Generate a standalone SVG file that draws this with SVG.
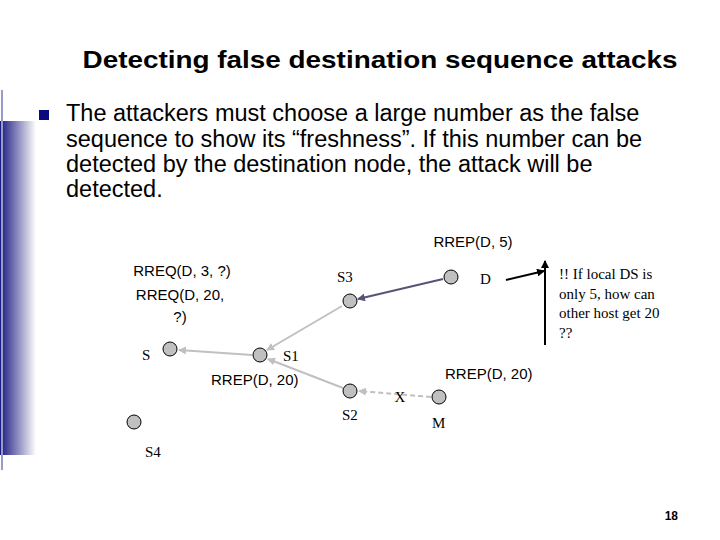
<svg xmlns="http://www.w3.org/2000/svg" width="720" height="540" viewBox="0 0 720 540">
<defs>
<linearGradient id="bar" x1="0" x2="1" y1="0" y2="0"><stop offset="0" stop-color="#1a1a80"/><stop offset="1" stop-color="#ffffff"/></linearGradient>
<marker id="ag" markerWidth="8" markerHeight="8" refX="7" refY="4" orient="auto" markerUnits="userSpaceOnUse"><path d="M0,0 L8,4 L0,8 z" fill="#c0c0c0"/></marker>
<marker id="ad" markerWidth="8" markerHeight="8" refX="7" refY="4" orient="auto" markerUnits="userSpaceOnUse"><path d="M0,0 L8,4 L0,8 z" fill="#555577"/></marker>
<marker id="ab" markerWidth="8" markerHeight="8" refX="7" refY="4" orient="auto" markerUnits="userSpaceOnUse"><path d="M0,0 L8,4 L0,8 z" fill="#000"/></marker>
<style>
.n{fill:#c0c0c0;stroke:#000;stroke-width:1}
.a{font-family:"Liberation Sans",Arial,sans-serif;font-size:15px;fill:#000}
.t{font-family:"Liberation Serif","Times New Roman",serif;font-size:15px;fill:#000}
.g{stroke:#c0c0c0;stroke-width:2;fill:none}
</style>
</defs>
<rect width="720" height="540" fill="#fff"/>
<rect x="0" y="121" width="36" height="334" fill="url(#bar)"/>
<line x1="2" y1="90" x2="2" y2="470" stroke="#9999cc" stroke-width="2"/>
<text x="380" y="68" text-anchor="middle" font-family="Liberation Sans,Arial,sans-serif" font-size="24" font-weight="bold" textLength="595" lengthAdjust="spacingAndGlyphs">Detecting false destination sequence attacks</text>
<rect x="39" y="110" width="10" height="10" fill="#0a0a80"/>
<text font-family="Liberation Sans,Arial,sans-serif" font-size="23.5"><tspan x="66" y="121">The attackers must choose a large number as the false</tspan><tspan x="66" y="147">sequence to show its “freshness”. If this number can be</tspan><tspan x="66" y="172">detected by the destination node, the attack will be</tspan><tspan x="66" y="197">detected.</tspan></text>
<g id="connectors">
<line x1="443" y1="279" x2="358" y2="299" stroke="#555577" stroke-width="2" marker-end="url(#ad)"/>
<line class="g" x1="342" y1="306" x2="267" y2="350" marker-end="url(#ag)"/>
<line class="g" x1="252" y1="355" x2="179" y2="350" marker-end="url(#ag)"/>
<line class="g" x1="343" y1="388" x2="268" y2="359" marker-end="url(#ag)"/>
<line x1="431" y1="397" x2="359" y2="391" stroke="#c0c0c0" stroke-width="2" stroke-dasharray="5,3" marker-end="url(#ag)"/>
<line x1="506" y1="280" x2="544" y2="271" stroke="#000" stroke-width="2" marker-end="url(#ab)"/>
<line x1="545" y1="345" x2="545" y2="261" stroke="#000" stroke-width="2" marker-end="url(#ab)"/>
</g>
<g id="S3"><circle class="n" cx="350" cy="301" r="7"/><text class="t" x="337" y="282">S3</text></g>
<g id="D"><circle class="n" cx="451" cy="277" r="7"/><text class="t" x="480" y="284">D</text></g>
<g id="S"><circle class="n" cx="170" cy="349" r="7"/><text class="t" x="142" y="360">S</text></g>
<g id="S1"><circle class="n" cx="260" cy="355" r="7"/><text class="t" x="283" y="361">S1</text></g>
<g id="S2"><circle class="n" cx="350" cy="391" r="7"/><text class="t" x="342" y="420">S2</text></g>
<g id="M"><circle class="n" cx="439" cy="397" r="7"/><text class="t" x="432" y="428">M</text></g>
<g id="S4"><circle class="n" cx="134" cy="422" r="7"/><text class="t" x="145" y="457">S4</text></g>
<text class="t" x="400" y="402" text-anchor="middle" font-size="20" fill="#666">X</text>
<text class="a" x="473" y="247" text-anchor="middle">RREP(D, 5)</text>
<text class="a" text-anchor="middle"><tspan x="182" y="276">RREQ(D, 3, ?)</tspan><tspan x="180" y="300">RREQ(D, 20,</tspan><tspan x="180" y="322">?)</tspan></text>
<text class="a" x="211" y="385">RREP(D, 20)</text>
<text class="a" x="445" y="379">RREP(D, 20)</text>
<text class="t" font-size="14"><tspan x="559" y="279">!!  If local DS is</tspan><tspan x="559" y="299">only 5, how can</tspan><tspan x="559" y="318">other host get 20</tspan><tspan x="559" y="338">??</tspan></text>
<text x="678" y="520" text-anchor="end" font-family="Liberation Sans,Arial,sans-serif" font-size="12" font-weight="bold">18</text>
</svg>
